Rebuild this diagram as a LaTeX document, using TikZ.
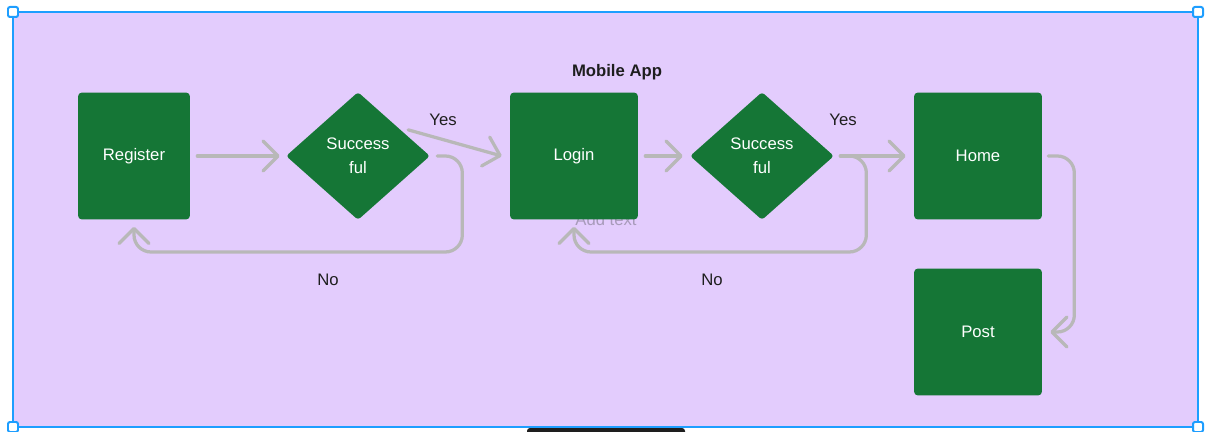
\documentclass[tikz,border=0pt]{standalone}
\usepackage{fontspec}
\setmainfont{Liberation Sans}
\usetikzlibrary{shapes.geometric,arrows.meta,calc}
\definecolor{framebg}{RGB}{227,204,253}
\definecolor{selblue}{RGB}{30,158,255}
\definecolor{appgreen}{RGB}{21,118,54}
\definecolor{flowgray}{RGB}{184,184,184}
\definecolor{labelink}{RGB}{30,30,30}
\definecolor{ghost}{RGB}{168,155,186}
\begin{document}
\begin{tikzpicture}[x=0.02cm,y=-0.02cm,
    every node/.style={font=\fontsize{9.5}{13.6}\selectfont},
    box/.style={fill=appgreen,rounded corners=0.08cm,minimum width=2.56cm,minimum height=2.54cm,text=white},
    choice/.style={diamond,fill=appgreen,aspect=1.125,inner sep=0pt,minimum width=2.88cm,minimum height=2.56cm,text=white,align=center,rounded corners=0.06cm},
    flow/.style={draw=flowgray,line width=0.065cm,line cap=round,rounded corners=0.34cm,-{Straight Barb[length=0.3cm,width=0.6cm,round]}},
    tag/.style={text=labelink}]
                \useasboundingbox (0,0) rectangle (1211,432);
                
                % Drawing selected frame
                \draw [draw=selblue,line width=0.04cm,fill=framebg] (13,12) rectangle (1198,427);%
                \foreach \hx/\hy in {13/12,1198/12,13/427,1198/427}
                  \draw [draw=selblue,line width=0.04cm,fill=white,rounded corners=0.04cm] (\hx-5,\hy-5) rectangle (\hx+5,\hy+5);%
                \fill [labelink,rounded corners=0.06cm] (527,428) rectangle (685,445);%
                
                % Marking title
                \node [font=\fontsize{9.5}{13.6}\selectfont\bfseries,text=labelink] (title) at (617,72) {Mobile App};%
                \node [text=ghost] (hint) at (606,220) {Add text};%
                
                % Drawing steps
                \node [box,minimum width=2.24cm] (reg) at (134,156) {Register};%
                \node [choice] (d1) at (358,156) {Success\\ful};%
                \node [box] (login) at (574,156) {Login};%
                \node [choice] (d2) at (762,156) {Success\\ful};%
                \node [box] (home) at (978,156) {Home};%
                \node [box] (post) at (978,332) {Post};%
                
                % Drawing register branch
                \draw [flow] ($(reg.east)+(7,0)$) -- ($(d1.west)+(-6,0)$);%
                \draw [flow] ($(d1.north east)+(14,6)$) -- ($(login.west)+(-8,0)$);%
                \draw [flow] ($(d1.east)+(7,0)$) -| ++(25,96) -| ($(reg.south)+(0,7)$);%
                
                % Drawing login branch
                \draw [flow] ($(login.east)+(7,0)$) -- ($(d2.west)+(-7,0)$);%
                \draw [flow] ($(d2.east)+(6,0)$) -- ($(home.west)+(-8,0)$);%
                \draw [flow] ($(d2.east)+(6,0)$) -| ++(26,96) -| ($(login.south)+(0,7)$);%
                
                % Drawing home to post
                \draw [flow] ($(home.east)+(6,0)$) -| ++(26,176) -- ($(post.east)+(8,0)$);%
                
                % Marking answers
                \node [tag] (yes1) at (443,120) {Yes};%
                \node [tag] (no1) at (328,280) {No};%
                \node [tag] (yes2) at (843,120) {Yes};%
                \node [tag] (no2) at (712,280) {No};%
\end{tikzpicture}
\end{document}
